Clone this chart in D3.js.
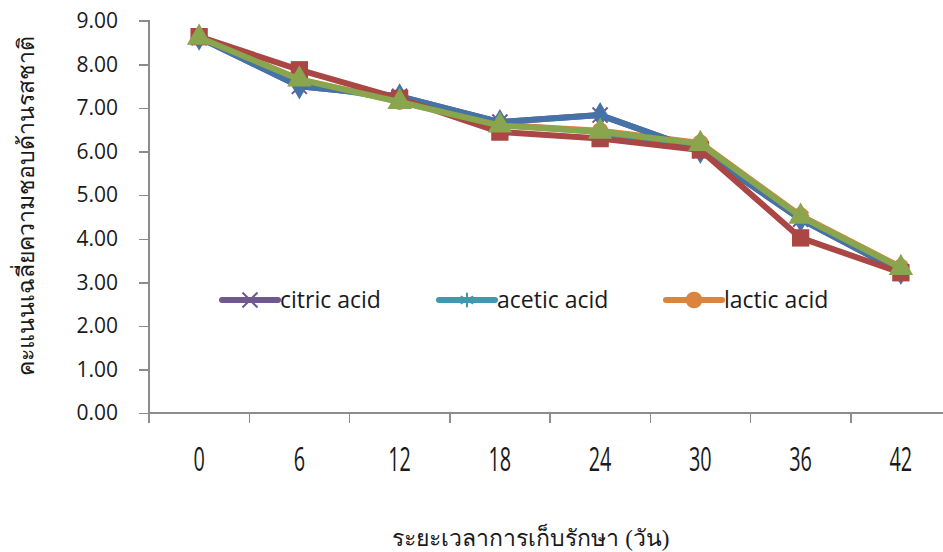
<!DOCTYPE html>
<meta charset="utf-8">
<style>
  body { margin: 0; background: #fff; }
  .axis path, .axis line { fill: none; stroke: #8c8c8c; stroke-width: 1.5px; shape-rendering: crispEdges; }
  .axis text { font-family: "Open Sans", sans-serif; font-size: 21px; fill: #1a1a1a; }
  .xaxis text { font-family: "Open Sans", sans-serif; font-size: 32px; }
  .legend text { font-family: "Open Sans", sans-serif; font-size: 23px; fill: #1a1a1a; }
  .title { font-size: 23px; fill: #1a1a1a; }
</style>
<div class="chart"></div>
<script src="https://cdn.jsdelivr.net/npm/d3@7"></script>
<script>
  var days = [0, 6, 12, 18, 24, 30, 36, 42];

  var citric = [8.62, 7.50, 7.27, 6.68, 6.84, 6.02, 4.45, 3.24];
  var acetic = [8.62, 7.55, 7.20, 6.62, 6.45, 6.08, 4.46, 3.26];
  var lactic = [8.63, 7.66, 7.15, 6.61, 6.48, 6.20, 4.53, 3.35];
  var seriesBlue = [8.62, 7.50, 7.27, 6.68, 6.84, 6.02, 4.45, 3.24];
  var seriesRed = [8.64, 7.88, 7.22, 6.45, 6.30, 6.04, 4.02, 3.22];
  var seriesGreen = [8.62, 7.66, 7.14, 6.60, 6.46, 6.18, 4.51, 3.33];

  var yTicks = [0, 1, 2, 3, 4, 5, 6, 7, 8, 9];
  var yTitle = "คะแนนเฉลี่ยความชอบด้านรสชาติ";
  var xTitle = "ระยะเวลาการเก็บรักษา (วัน)";

  var width = 943, height = 552;
  var plot = {left: 149, right: 951, top: 21, bottom: 413};

  var series = [
    {name: "citric acid", values: citric, color: "#71588f", symbol: d3.symbolX, size: 150, stroke: true, legend: true},
    {name: "acetic acid", values: acetic, color: "#4198af", symbol: d3.symbolAsterisk, size: 150, stroke: true, legend: true},
    {name: "lactic acid", values: lactic, color: "#db843d", symbol: d3.symbolCircle, size: 220, stroke: false, legend: true},
    {name: "s1", values: seriesBlue, color: "#4572a7", symbol: d3.symbolDiamond, size: 200, stroke: false},
    {name: "s2", values: seriesRed, color: "#aa4643", symbol: d3.symbolSquare, size: 300, stroke: false},
    {name: "s3", values: seriesGreen, color: "#89a54e", symbol: d3.symbolTriangle, size: 260, stroke: false}
  ];

  var x = d3.scaleBand().domain(days).range([plot.left, plot.right]);
  var y = d3.scaleLinear().domain([0, 9]).range([plot.bottom, plot.top]);

  var svg = d3.select(".chart").append("svg")
      .attr("width", width)
      .attr("height", height);

  // axes
  svg.append("g")
      .attr("class", "axis")
      .attr("transform", "translate(" + plot.left + ",0)")
      .call(d3.axisLeft(y).tickValues(yTicks).tickSize(10).tickPadding(21).tickFormat(d3.format(".2f")))
      .call(g => g.select(".domain").attr("d", "M-10," + y(9) + "H0V" + (plot.bottom + 10)));

  var xAxis = d3.axisBottom(x).tickSize(0).tickPadding(35);
  var gx = svg.append("g")
      .attr("class", "axis xaxis")
      .attr("transform", "translate(0," + plot.bottom + ")")
      .call(xAxis);
  gx.select(".domain").attr("d", "M" + plot.left + ",0H" + plot.right);
  // narrow digits like the original
  gx.selectAll(".tick text").attr("transform", "scale(0.62,1)");
  // category boundary ticks
  gx.selectAll(".bound").data(days.slice(1))
      .enter().append("line")
      .attr("x1", d => x(d)).attr("x2", d => x(d))
      .attr("y1", 0).attr("y2", 10)
      .attr("stroke", "#8c8c8c").attr("stroke-width", 1.5);

  var line = d3.line()
      .x((d, i) => x(days[i]) + x.bandwidth() / 2)
      .y(d => y(d));

  series.forEach(function (s) {
    var g = svg.append("g");
    g.append("path")
        .attr("d", line(s.values))
        .attr("fill", "none")
        .attr("stroke", s.color)
        .attr("stroke-width", 6)
        .attr("stroke-linejoin", "round");
    var sym = d3.symbol().type(s.symbol).size(s.size);
    g.selectAll(".pt").data(s.values)
        .enter().append("path")
        .attr("transform", (d, i) => "translate(" + (x(days[i]) + x.bandwidth() / 2) + "," + y(d) + ")")
        .attr("d", sym)
        .attr("fill", s.stroke ? "none" : s.color)
        .attr("stroke", s.stroke ? s.color : "none")
        .attr("stroke-width", 2);
  });

  // legend
  var legendItems = series.filter(s => s.legend);
  var legendX = [222, 439, 666];
  var legend = svg.append("g").attr("class", "legend");
  legendItems.forEach(function (s, i) {
    var lg = legend.append("g").attr("transform", "translate(" + legendX[i] + ",300)");
    lg.append("line").attr("x1", 0).attr("x2", 56).attr("y1", 0).attr("y2", 0)
        .attr("stroke", s.color).attr("stroke-width", 6).attr("stroke-linecap", "round");
    lg.append("path").attr("transform", "translate(28,0)")
        .attr("d", d3.symbol().type(s.symbol).size(s.size))
        .attr("fill", s.stroke ? "none" : s.color)
        .attr("stroke", s.stroke ? s.color : "none")
        .attr("stroke-width", 2);
    lg.append("text").attr("x", 58).attr("y", 0).attr("dy", "0.35em").text(s.name);
  });

  // titles
  svg.append("text")
      .attr("class", "title")
      .attr("transform", "translate(34,206) rotate(-90)")
      .attr("text-anchor", "middle")
      .text(yTitle);

  svg.append("text")
      .attr("class", "title")
      .attr("x", 531).attr("y", 546)
      .attr("text-anchor", "middle")
      .text(xTitle);
</script>
